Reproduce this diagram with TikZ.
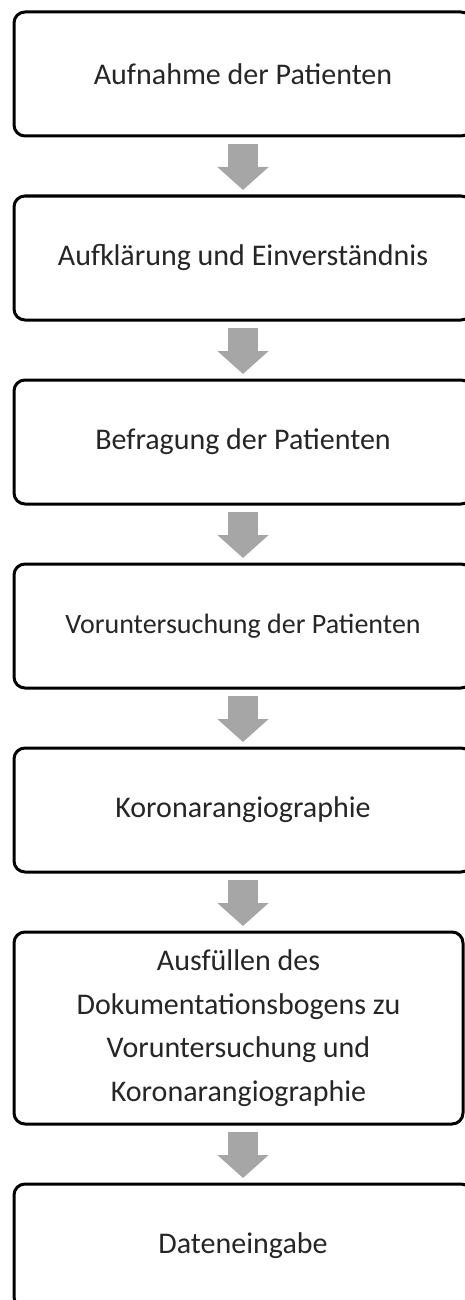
\documentclass[tikz,border=0pt]{standalone}
\usepackage{fontspec}
\setmainfont{Carlito}
\usetikzlibrary{arrows.meta,positioning}

\begin{document}
\begin{tikzpicture}[x=1pt,y=1pt,node distance=60pt,
  step node/.style={rectangle,rounded corners=11pt,draw,line width=3pt,fill=white,
    minimum width=458pt,minimum height=124pt,outer sep=0pt,inner sep=4pt,align=center,
    text=black!85,font=\fontsize{30}{43.5}\selectfont},
  flow arrow/.style={draw=black!35,line width=30pt,shorten <=8pt,shorten >=6pt,
    -{Triangle[width=50pt,length=23pt]}}]

  \useasboundingbox (0,0) rectangle (464,-1300);

  \node[step node] (1) at (243,-74) {Aufnahme der Patienten};
  \node[step node] (2) [below=of 1] {Aufklärung und Einverständnis};
  \node[step node] (3) [below=of 2] {Befragung der Patienten};
  \node[step node,font=\fontsize{28}{40}\selectfont] (4) [below=of 3]
    {Voruntersuchung der Patienten};
  \node[step node] (5) [below=of 4] {Koronarangiographie};
  \node[step node,minimum width=449pt,minimum height=192pt] (6)
    [below=of 5.south west,anchor=north west]
    {Ausfüllen des\\Dokumentationsbogens zu\\Voruntersuchung und\\Koronarangiographie};
  \node[step node] (7) [below=of 6.south west,anchor=north west] {Dateneingabe};

  \path
    (1) edge [flow arrow] (2)
    (2) edge [flow arrow] (3)
    (3) edge [flow arrow] (4)
    (4) edge [flow arrow] (5)
    (5.south) edge [flow arrow] (5.south |- 6.north)
    (7.north |- 6.south) edge [flow arrow] (7.north)
    ;

\end{tikzpicture}
\end{document}
